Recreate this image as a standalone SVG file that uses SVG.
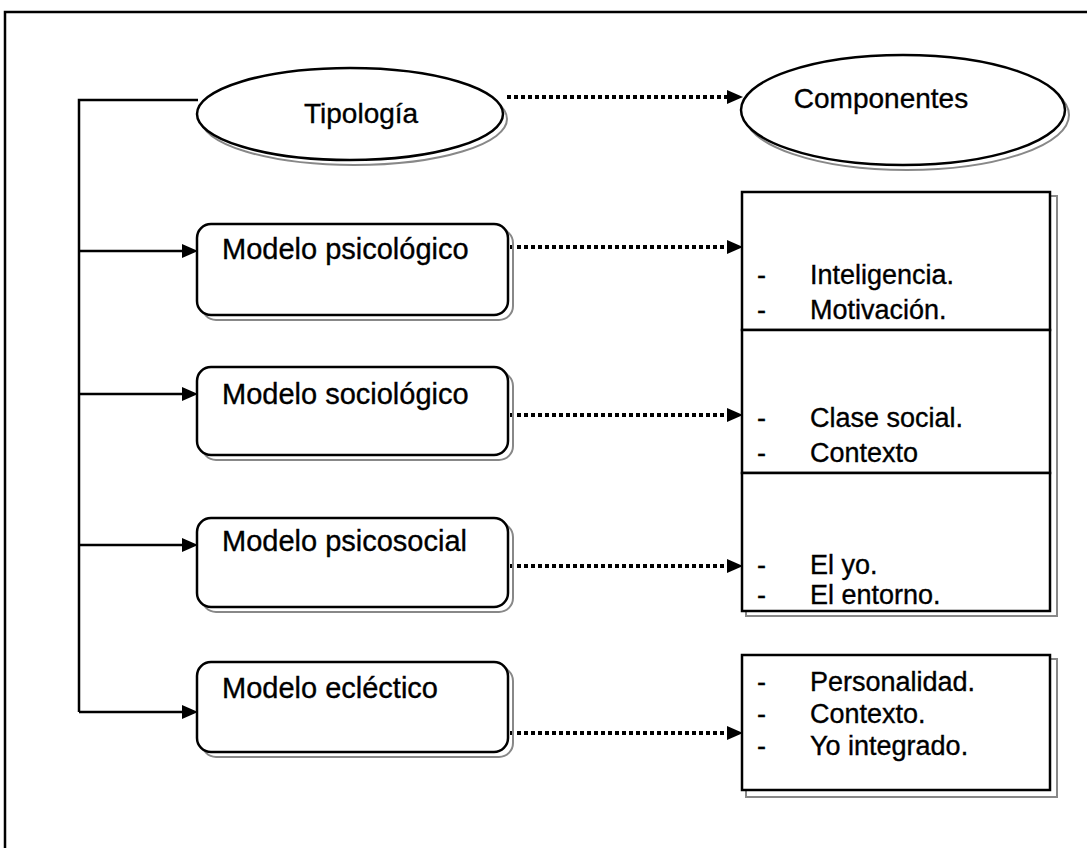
<svg xmlns="http://www.w3.org/2000/svg" width="1087" height="848" viewBox="0 0 1087 848">
<defs>
<style>
.t{font-family:"Liberation Sans",Arial,sans-serif;font-size:29px;fill:#000;stroke:#000;stroke-width:0.35}
.s{font-family:"Liberation Sans",Arial,sans-serif;font-size:27px;fill:#000;stroke:#000;stroke-width:0.35}
.o{fill:#fff;stroke:#000;stroke-width:2.5}
.sh{fill:none;stroke:#888;stroke-width:2}
.ln{fill:none;stroke:#000;stroke-width:2.5}
.dt{fill:none;stroke:#000;stroke-width:4;stroke-dasharray:4 3}
.ah{fill:#000}
</style>
</defs>
<rect width="1087" height="848" fill="#fff"/>
<path class="ln" d="M5,848 V12 H1087" stroke-width="3"/>

<g id="connectors">
<path class="ln" d="M198,100 H79 V712"/>
<path class="ln" d="M79,251 H184"/><path class="ah" d="M182,244 L198,251 L182,258 Z"/>
<path class="ln" d="M79,394 H184"/><path class="ah" d="M182,387 L198,394 L182,401 Z"/>
<path class="ln" d="M79,545 H184"/><path class="ah" d="M182,538 L198,545 L182,552 Z"/>
<path class="ln" d="M79,712 H184"/><path class="ah" d="M182,705 L198,712 L182,719 Z"/>
<path class="dt" d="M507,97 H728"/><path class="ah" d="M727,90 L743,97 L727,104 Z"/>
<path class="dt" d="M510,247 H728"/><path class="ah" d="M727,240 L743,247 L727,254 Z"/>
<path class="dt" d="M510,415 H728"/><path class="ah" d="M727,408 L743,415 L727,422 Z"/>
<path class="dt" d="M510,566 H728"/><path class="ah" d="M727,559 L743,566 L727,573 Z"/>
<path class="dt" d="M510,733 H728"/><path class="ah" d="M727,726 L743,733 L727,740 Z"/>
</g>

<g id="tipologia">
<ellipse class="sh" cx="354" cy="119" rx="153" ry="46"/>
<ellipse class="o" cx="350" cy="114" rx="153" ry="46"/>
<text class="t" x="304" y="123" style="font-size:28px">Tipología</text>
</g>

<g id="componentes">
<ellipse class="sh" cx="907" cy="115" rx="162" ry="55"/>
<ellipse class="o" cx="903" cy="110" rx="162" ry="55"/>
<text class="t" x="881" y="108" text-anchor="middle" style="font-size:28px">Componentes</text>
</g>

<g id="m-psicologico">
<rect class="sh" x="202" y="229" width="311" height="91" rx="14"/>
<rect class="o" x="197" y="224" width="311" height="91" rx="14"/>
<text class="t" x="222" y="259">Modelo psicológico</text>
</g>
<g id="m-sociologico">
<rect class="sh" x="202" y="372" width="311" height="88" rx="14"/>
<rect class="o" x="197" y="367" width="311" height="88" rx="14"/>
<text class="t" x="222" y="404">Modelo sociológico</text>
</g>
<g id="m-psicosocial">
<rect class="sh" x="202" y="523" width="311" height="89" rx="14"/>
<rect class="o" x="197" y="518" width="311" height="89" rx="14"/>
<text class="t" x="222" y="551">Modelo psicosocial</text>
</g>
<g id="m-eclectico">
<rect class="sh" x="202" y="667" width="311" height="90" rx="14"/>
<rect class="o" x="197" y="662" width="311" height="90" rx="14"/>
<text class="t" x="222" y="698">Modelo ecléctico</text>
</g>

<g id="c-stack-shadow">
<path class="sh" d="M1050,196 H1057 V616 H746 V610"/>
<path class="sh" d="M1050,659 H1057 V797 H746 V790"/>
</g>
<g id="c-psicologico">
<rect class="o" x="742" y="192" width="308" height="138"/>
<text class="s" x="757" y="284">-</text><text class="s" x="810" y="284">Inteligencia.</text>
<text class="s" x="757" y="319">-</text><text class="s" x="810" y="319">Motivación.</text>
</g>
<g id="c-sociologico">
<rect class="o" x="742" y="330" width="308" height="143"/>
<text class="s" x="757" y="427">-</text><text class="s" x="810" y="427">Clase social.</text>
<text class="s" x="757" y="462">-</text><text class="s" x="810" y="462">Contexto</text>
</g>
<g id="c-psicosocial">
<rect class="o" x="742" y="473" width="308" height="138"/>
<text class="s" x="757" y="574">-</text><text class="s" x="810" y="574">El yo.</text>
<text class="s" x="757" y="604">-</text><text class="s" x="810" y="604">El entorno.</text>
</g>
<g id="c-eclectico">
<rect class="o" x="742" y="655" width="308" height="135"/>
<text class="s" x="757" y="691">-</text><text class="s" x="810" y="691">Personalidad.</text>
<text class="s" x="757" y="723">-</text><text class="s" x="810" y="723">Contexto.</text>
<text class="s" x="757" y="755">-</text><text class="s" x="810" y="755">Yo integrado.</text>
</g>
</svg>
